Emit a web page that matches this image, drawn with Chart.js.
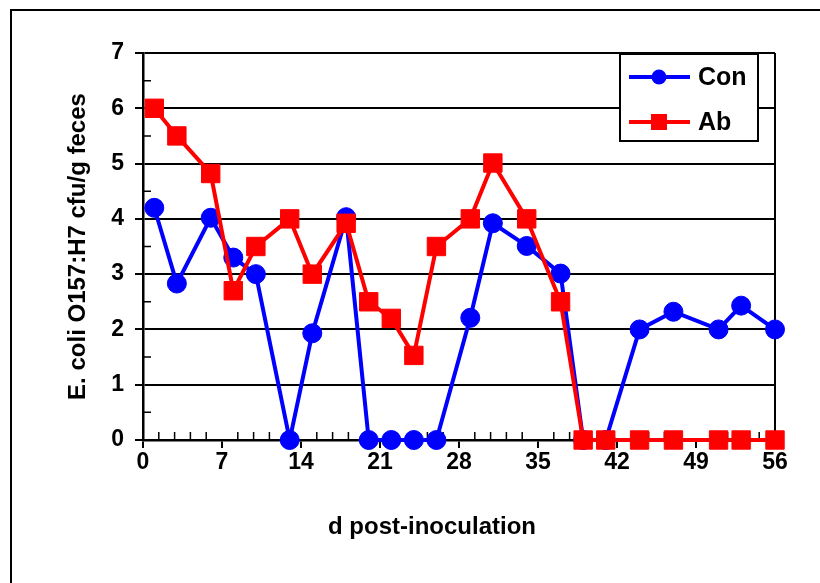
<!DOCTYPE html>
<html>
<head>
<meta charset="utf-8">
<script src="https://cdn.jsdelivr.net/npm/chart.js@4.4.1/dist/chart.umd.min.js"></script>
<style>
  html, body { margin: 0; padding: 0; background: #fff; }
  #chart { display: block; }
</style>
</head>
<body>
<canvas id="chart" width="820" height="583"></canvas>
<script>
/* --- data --- */
const days = [1, 3, 6, 8, 10, 13, 15, 18, 20, 22, 24, 26, 29, 31, 34, 37, 39, 41, 44, 47, 51, 53, 56];
const conValues = [4.2, 2.83, 4.02, 3.3, 3.0, 0, 1.93, 4.03, 0, 0, 0, 0, 2.21, 3.92, 3.51, 3.01, 0, 0, 2.0, 2.32, 2.0, 2.43, 2.0];
const abValues = [6.0, 5.5, 4.82, 2.7, 3.5, 4.0, 3.0, 3.92, 2.5, 2.2, 1.53, 3.5, 4.0, 5.01, 4.0, 2.5, 0, 0, 0, 0, 0, 0, 0];
const xTicks = [0, 7, 14, 21, 28, 35, 42, 49, 56];
const yTicks = [0, 1, 2, 3, 4, 5, 6, 7];

const FONT = "'Liberation Sans', Arial, sans-serif";
const BLUE = '#0000ff';
const RED = '#ff0000';

const toPoints = (vals) => vals.map((v, i) => ({ x: days[i], y: v }));

/* --- frame, minor ticks, right border, x title, legend --- */
const decorPlugin = {
  id: 'decor',
  beforeDraw(chart) {
    const { ctx } = chart;
    ctx.save();
    ctx.fillStyle = '#fff';
    ctx.fillRect(0, 0, chart.width, chart.height);
    ctx.strokeStyle = '#000';
    ctx.lineWidth = 2;
    ctx.beginPath();
    ctx.moveTo(11, chart.height + 2);
    ctx.lineTo(11, 10);
    ctx.lineTo(chart.width + 2, 10);
    ctx.stroke();
    ctx.restore();
  },
  beforeDatasetsDraw(chart) {
    const { ctx, chartArea: a, scales } = chart;
    ctx.save();
    ctx.strokeStyle = '#000';
    ctx.lineWidth = 2;
    // right border of the plot
    ctx.beginPath();
    ctx.moveTo(a.right, a.top);
    ctx.lineTo(a.right, a.bottom);
    ctx.stroke();
    // minor ticks, pointing inward
    ctx.lineWidth = 1.5;
    ctx.beginPath();
    for (let v = 0.5; v < 7; v += 1) {
      const y = scales.y.getPixelForValue(v);
      ctx.moveTo(a.left, y);
      ctx.lineTo(a.left + 8, y);
    }
    for (let k = 1; k < 40; k++) {
      if (k % 5 === 0) continue;
      const x = scales.x.getPixelForValue(k * 1.4);
      ctx.moveTo(x, a.bottom);
      ctx.lineTo(x, a.bottom - 8);
    }
    ctx.stroke();
    ctx.restore();
  },
  afterDraw(chart) {
    const { ctx, chartArea: a } = chart;
    ctx.save();
    // x axis title
    ctx.fillStyle = '#000';
    ctx.font = 'bold 24px ' + FONT;
    ctx.textAlign = 'center';
    ctx.textBaseline = 'middle';
    ctx.fillText('d post-inoculation', 432, 527);

    // legend
    const bx = a.right - 155, by = a.top + 1, bw = 138, bh = 87;
    ctx.fillStyle = '#fff';
    ctx.fillRect(bx, by, bw, bh);
    ctx.strokeStyle = '#000';
    ctx.lineWidth = 2;
    ctx.strokeRect(bx, by, bw, bh);
    chart.data.datasets.forEach((ds) => {
      const y = ds.legendY;
      ctx.strokeStyle = ds.borderColor;
      ctx.lineWidth = 4;
      ctx.beginPath();
      ctx.moveTo(bx + 9, y);
      ctx.lineTo(bx + 70, y);
      ctx.stroke();
      ctx.fillStyle = ds.backgroundColor;
      if (ds.pointStyle === 'rect') {
        ctx.fillRect(bx + 39 - 8, y - 8, 16, 16);
      } else {
        ctx.beginPath();
        ctx.arc(bx + 39, y, 7.5, 0, Math.PI * 2);
        ctx.fill();
      }
      ctx.fillStyle = '#000';
      ctx.font = 'bold 25px ' + FONT;
      ctx.textAlign = 'left';
      ctx.textBaseline = 'middle';
      ctx.fillText(ds.label, bx + 78, y + 1);
    });
    ctx.restore();
  }
};

new Chart(document.getElementById('chart'), {
  type: 'line',
  data: {
    datasets: [
      {
        label: 'Ab',
        data: toPoints(abValues),
        borderColor: RED,
        backgroundColor: RED,
        pointBackgroundColor: RED,
        pointBorderColor: RED,
        pointStyle: 'rect',
        pointRadius: 13,
        pointBorderWidth: 1,
        borderWidth: 4,
        tension: 0,
        clip: false,
        order: 0,
        legendY: 122
      },
      {
        label: 'Con',
        data: toPoints(conValues),
        borderColor: BLUE,
        backgroundColor: BLUE,
        pointBackgroundColor: BLUE,
        pointBorderColor: BLUE,
        pointStyle: 'circle',
        pointRadius: 9.5,
        pointBorderWidth: 1,
        borderWidth: 4,
        tension: 0,
        clip: false,
        order: 1,
        legendY: 77
      }
    ]
  },
  options: {
    responsive: false,
    animation: false,
    events: [],
    layout: { padding: { top: 53, right: 45, left: 0, bottom: 0 } },
    plugins: {
      legend: { display: false },
      tooltip: { enabled: false }
    },
    scales: {
      x: {
        type: 'linear',
        min: 0,
        max: 56,
        afterFit: (s) => { s.height = 143; },
        afterBuildTicks: (s) => { s.ticks = xTicks.map(v => ({ value: v })); },
        grid: { drawOnChartArea: false, color: '#000', tickLength: 8, lineWidth: 2 },
        border: { color: '#000', width: 2.5 },
        ticks: {
          color: '#000',
          padding: 1,
          maxRotation: 0,
          font: { family: FONT, size: 23, weight: 'bold' }
        }
      },
      y: {
        min: 0,
        max: 7,
        afterFit: (s) => { s.width = 143; },
        afterBuildTicks: (s) => { s.ticks = yTicks.map(v => ({ value: v })); },
        grid: { color: '#000', lineWidth: 2, tickLength: 8 },
        border: { color: '#000', width: 2.5 },
        ticks: {
          color: '#000',
          padding: 11,
          font: { family: FONT, size: 23, weight: 'bold' }
        },
        title: {
          display: true,
          text: 'E. coli O157:H7 cfu/g feces',
          color: '#000',
          padding: { top: 64, bottom: 0 },
          font: { family: FONT, size: 24, weight: 'bold' }
        }
      }
    }
  },
  plugins: [decorPlugin]
});
</script>
</body>
</html>
